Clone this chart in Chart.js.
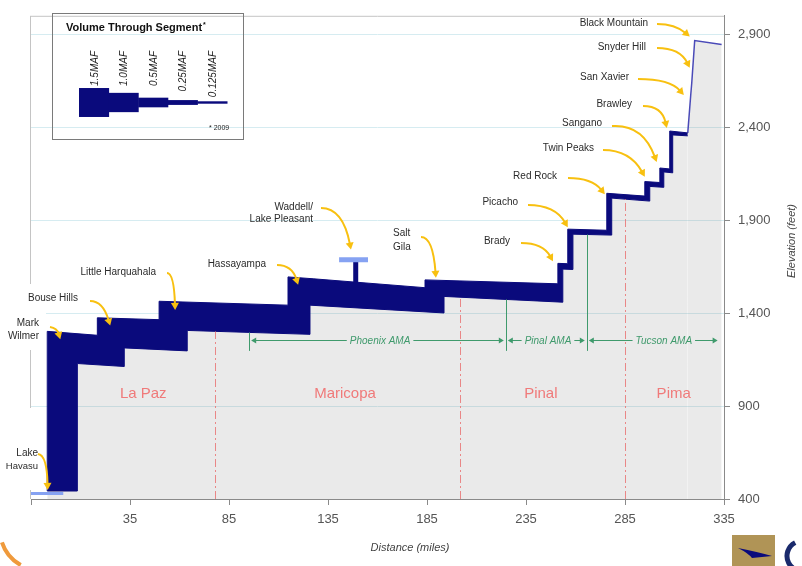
<!DOCTYPE html>
<html>
<head>
<meta charset="utf-8">
<style>
  html, body { margin: 0; padding: 0; background: #ffffff; }
  canvas { display: block; }
</style>
<script src="https://cdn.jsdelivr.net/npm/chart.js@4.4.1/dist/chart.umd.min.js"></script>
</head>
<body>
<canvas id="profile" width="802" height="566"></canvas>
<script>
// CAP aqueduct elevation profile, Lake Havasu to Black Mountain.
// Points are [distance in miles, elevation in feet].

// upper edge of the water band (pumping plants are the vertical steps)
const canalTop = [
  [-6.8, 443], [-6.8, 1302], [18.5, 1281], [18.5, 1375], [49.7, 1365], [49.7, 1464],
  [114.8, 1443], [114.8, 1595], [127.5, 1585], [184.0, 1537], [184.0, 1579],
  [251.1, 1558], [251.1, 1668], [256.1, 1666], [256.1, 1852], [275.8, 1846],
  [275.8, 2045], [295.0, 2030], [295.0, 2108], [302.6, 2103], [302.6, 2181],
  [307.6, 2176], [307.6, 2380], [316.7, 2370]
];
// lower edge of the water band (band depth = volume through segment)
const canalBottom = [
  [-6.8, 443], [8.4, 443], [8.4, 1129], [32.1, 1113], [32.1, 1213], [63.9, 1197],
  [63.9, 1307], [125.9, 1286], [125.9, 1443], [193.6, 1401], [193.6, 1490],
  [253.6, 1459], [253.6, 1637], [258.7, 1635], [258.7, 1825], [278.3, 1820],
  [278.3, 2019], [297.5, 2003], [297.5, 2082], [304.6, 2077], [304.6, 2160],
  [309.1, 2155], [309.1, 2359], [316.7, 2354]
];
// small-flow reach from Brawley up to Black Mountain
const upperReach = [[316.7, 2370], [318.2, 2574], [318.7, 2637], [320.2, 2867], [333.8, 2846]];
// Waddell pumping line and Lake Pleasant
const waddellLine = [[149.0, 1560], [149.0, 1687]];
const lakePleasant = [[140.6, 1687], [155.2, 1687]];
// Lake Havasu intake level
const lakeHavasu = [[-15, 430], [1.3, 430]];

// pumping plants and where each callout points
const stations = ['Lake Havasu', 'Mark Wilmer', 'Bouse Hills', 'Little Harquahala', 'Hassayampa',
  'Waddell/Lake Pleasant', 'Salt Gila', 'Brady', 'Picacho', 'Red Rock', 'Twin Peaks',
  'Sangano', 'Brawley', 'San Xavier', 'Snyder Hill', 'Black Mountain'];
const stationMiles = [-6.6, -0.2, 25.0, 57.8, 119.9, 146.6, 189.5, 248.6, 256.1, 274.8, 295.0,
  301.0, 306.1, 314.7, 317.7, 317.7];
const stationElev = [449, 1260, 1333, 1417, 1553, 1742, 1590, 1679, 1862, 2040, 2134,
  2213, 2396, 2574, 2720, 2888];

// counties and their boundaries (miles)
const counties = ['La Paz', 'Maricopa', 'Pinal', 'Pima'];
const countyBounds = [78.0, 201.6, 285.0];

// active management areas
const amaNames = ['Phoenix AMA', 'Pinal AMA', 'Tucson AMA'];
const amaBounds = [95.2, 224.8, 265.7, 332.8];

// legend key: annual volume through a segment
const legendLabels = ['1.5MAF', '1.0MAF', '0.5MAF', '0.25MAF', '0.125MAF'];
const legendVolumes = [1.5, 1.0, 0.5, 0.25, 0.125];

// axis ticks
const distanceTicks = [-15, 35, 85, 135, 185, 235, 285, 335];
const elevationTicks = [400, 900, 1400, 1900, 2400, 2900];

const toXY = pts => pts.map(([x, y]) => ({ x, y }));

const NAVY = '#0a0a7c';
const PALE_BLUE = '#86a2f2';
const GROUND = 'rgba(140,140,140,0.18)';
const FONT = '"Liberation Sans", Arial, Helvetica, sans-serif';

function edgeAt(pts, m) {
  for (let i = 0; i < pts.length - 1; i++) {
    const [x0, y0] = pts[i], [x1, y1] = pts[i + 1];
    if (x1 > x0 && m >= x0 && m <= x1) return y0 + (y1 - y0) * (m - x0) / (x1 - x0);
  }
  return null;
}

function arrowHead(ctx, tip, ang, len, half) {
  const bx = tip[0] - len * Math.cos(ang), by = tip[1] - len * Math.sin(ang);
  ctx.beginPath();
  ctx.moveTo(tip[0], tip[1]);
  ctx.lineTo(bx + half * Math.sin(ang), by - half * Math.cos(ang));
  ctx.lineTo(bx - half * Math.sin(ang), by + half * Math.cos(ang));
  ctx.closePath();
  ctx.fill();
  return [bx, by];
}

function calloutArrow(ctx, from, ctrl, tip) {
  ctx.save();
  ctx.strokeStyle = ctx.fillStyle = '#f8c010';
  ctx.lineWidth = 2;
  const ang = Math.atan2(tip[1] - ctrl[1], tip[0] - ctrl[0]);
  const base = arrowHead(ctx, tip, ang, 7, 4);
  ctx.beginPath();
  ctx.moveTo(from[0], from[1]);
  ctx.quadraticCurveTo(ctrl[0], ctrl[1], base[0] + 1.5 * Math.cos(ang), base[1] + 1.5 * Math.sin(ang));
  ctx.stroke();
  ctx.restore();
}

// text placement and arrow tails for each callout (pixels)
const calloutLayout = [
  { lines: ['Lake', 'Havasu'], x: 38, y: [453, 466], size: [10, 9.5], from: [38, 454], ctrl: [47, 455] },
  { lines: ['Mark', 'Wilmer'], x: 39, y: [323, 336], size: [10, 10], from: [50, 327], ctrl: [57, 328] },
  { lines: ['Bouse Hills'], x: 78, y: [298], size: [10], from: [90, 301], ctrl: [103, 301] },
  { lines: ['Little Harquahala'], x: 156, y: [272], size: [10], from: [167, 273], ctrl: [174, 273] },
  { lines: ['Hassayampa'], x: 266, y: [264], size: [10], from: [277, 265], ctrl: [292, 265] },
  { lines: ['Waddell/', 'Lake Pleasant'], x: 313, y: [207, 219], size: [10, 10], from: [321, 208], ctrl: [343, 208] },
  { lines: ['Salt', 'Gila'], x: 393, y: [233, 247], size: [10, 10], align: 'left', from: [421, 237], ctrl: [433, 237] },
  { lines: ['Brady'], x: 510, y: [241], size: [10], from: [521, 243], ctrl: [543, 243] },
  { lines: ['Picacho'], x: 518, y: [202], size: [10], from: [528, 205], ctrl: [555, 205] },
  { lines: ['Red Rock'], x: 557, y: [176], size: [10], from: [568, 178], ctrl: [592, 178] },
  { lines: ['Twin Peaks'], x: 594, y: [148], size: [10], from: [603, 150], ctrl: [630, 150] },
  { lines: ['Sangano'], x: 602, y: [123], size: [10], from: [612, 126], ctrl: [643, 124] },
  { lines: ['Brawley'], x: 632, y: [104], size: [10], from: [643, 106], ctrl: [662, 106] },
  { lines: ['San Xavier'], x: 629, y: [77], size: [10], from: [638, 79], ctrl: [670, 79] },
  { lines: ['Snyder Hill'], x: 646, y: [47], size: [10], from: [657, 48], ctrl: [680, 48] },
  { lines: ['Black Mountain'], x: 648, y: [23], size: [10], from: [657, 24], ctrl: [675, 24] }
];

const decorations = {
  id: 'decorations',
  afterDatasetsDraw(chart) {
    const ctx = chart.ctx;
    const xs = chart.scales.x, ys = chart.scales.y;
    const bottom = chart.chartArea.bottom;

    // county boundaries (dash-dot), from the ground up to the canal
    ctx.save();
    ctx.strokeStyle = 'rgba(232,110,110,0.8)';
    ctx.lineWidth = 1;
    ctx.setLineDash([8, 3, 2, 3]);
    countyBounds.forEach(m => {
      const px = Math.round(xs.getPixelForValue(m)) + 0.5;
      ctx.beginPath();
      ctx.moveTo(px, bottom);
      ctx.lineTo(px, ys.getPixelForValue(edgeAt(canalBottom, m)));
      ctx.stroke();
    });
    ctx.restore();

    // county names
    const countyCenters = [41.7, 143.6, 242.5, 309.6];
    ctx.save();
    ctx.fillStyle = '#f07a7a';
    ctx.font = '15px ' + FONT;
    ctx.textAlign = 'center';
    ctx.textBaseline = 'middle';
    counties.forEach((name, i) => {
      ctx.fillText(name, xs.getPixelForValue(countyCenters[i]), ys.getPixelForValue(967));
    });
    ctx.restore();

    // AMA boundaries and spans
    const green = '#3f9a6c';
    const yLine = Math.round(ys.getPixelForValue(1255)) + 0.5;
    const yFoot = ys.getPixelForValue(1197);
    ctx.save();
    ctx.strokeStyle = ctx.fillStyle = green;
    ctx.lineWidth = 1;
    amaBounds.slice(0, 3).forEach(m => {
      const px = Math.round(xs.getPixelForValue(m)) + 0.5;
      ctx.beginPath();
      ctx.moveTo(px, yFoot);
      ctx.lineTo(px, ys.getPixelForValue(edgeAt(canalBottom, m)));
      ctx.stroke();
    });
    const amaCenters = [161.3, 246.1, 304.6];
    ctx.font = 'italic 10px ' + FONT;
    ctx.textAlign = 'center';
    ctx.textBaseline = 'middle';
    amaNames.forEach((name, i) => {
      const x0 = xs.getPixelForValue(amaBounds[i]) + 2;
      const x1 = xs.getPixelForValue(amaBounds[i + 1]) - 2;
      const cx = xs.getPixelForValue(amaCenters[i]);
      const w = ctx.measureText(name).width;
      ctx.fillText(name, cx, yLine + 1);
      ctx.beginPath();
      ctx.moveTo(x0 + 4, yLine); ctx.lineTo(cx - w / 2 - 3, yLine);
      ctx.moveTo(cx + w / 2 + 3, yLine); ctx.lineTo(x1 - 4, yLine);
      ctx.stroke();
      arrowHead(ctx, [x0, yLine], Math.PI, 5, 3);
      arrowHead(ctx, [x1, yLine], 0, 5, 3);
    });
    ctx.restore();
  },
  afterDraw(chart) {
    const ctx = chart.ctx;
    const { left, right, top, bottom } = chart.chartArea;
    const xs = chart.scales.x, ys = chart.scales.y;

    // plot frame: top and left edges
    ctx.save();
    ctx.strokeStyle = '#c4c4c4';
    ctx.lineWidth = 1;
    ctx.beginPath();
    ctx.moveTo(left, top + 0.5); ctx.lineTo(right, top + 0.5);
    ctx.moveTo(left - 0.5, top); ctx.lineTo(left - 0.5, bottom);
    ctx.stroke();
    // text boxes on the left edge
    ctx.fillStyle = '#ffffff';
    ctx.fillRect(0, 284, 46, 66);
    ctx.fillRect(0, 408, 44, 82);
    ctx.restore();

    // callouts
    ctx.save();
    ctx.fillStyle = '#2b2b2b';
    ctx.textBaseline = 'middle';
    calloutLayout.forEach((c, i) => {
      ctx.textAlign = c.align || 'right';
      c.lines.forEach((t, j) => {
        ctx.font = c.size[j] + 'px ' + FONT;
        ctx.fillText(t, c.x, c.y[j]);
      });
      const tip = [xs.getPixelForValue(stationMiles[i]), ys.getPixelForValue(stationElev[i])];
      calloutArrow(ctx, c.from, c.ctrl, tip);
    });
    ctx.restore();

    // volume legend
    ctx.save();
    ctx.strokeStyle = '#7a7a7a';
    ctx.lineWidth = 1;
    ctx.strokeRect(52.5, 13.5, 191, 126);
    ctx.fillStyle = '#111';
    ctx.font = 'bold 11px ' + FONT;
    ctx.textAlign = 'left';
    ctx.textBaseline = 'middle';
    ctx.fillText('Volume Through Segment', 66, 28);
    const tw = ctx.measureText('Volume Through Segment').width;
    ctx.font = 'bold 7px ' + FONT;
    ctx.fillText('*', 66 + tw + 1, 25);
    const segW = 29.6, x0 = 79, cy = 102.5;
    ctx.fillStyle = NAVY;
    legendVolumes.forEach((v, i) => {
      const h = Math.max(2, v * 19.3);
      ctx.fillRect(x0 + i * segW, cy - h / 2, segW + 0.5, h);
    });
    ctx.fillStyle = '#222';
    ctx.font = 'italic 10px ' + FONT;
    ctx.textAlign = 'right';
    legendLabels.forEach((t, i) => {
      ctx.save();
      ctx.translate(x0 + i * segW + segW / 2 + 1, 51);
      ctx.rotate(-Math.PI / 2);
      ctx.fillText(t, 0, 0);
      ctx.restore();
    });
    ctx.font = '7px ' + FONT;
    ctx.textAlign = 'left';
    ctx.fillText('* 2009', 209, 128);
    ctx.restore();

    // axis titles
    ctx.save();
    ctx.fillStyle = '#444';
    ctx.font = 'italic 11px ' + FONT;
    ctx.textAlign = 'center';
    ctx.textBaseline = 'middle';
    ctx.fillText('Distance (miles)', 410, 548);
    ctx.translate(792, 241);
    ctx.rotate(-Math.PI / 2);
    ctx.fillText('Elevation (feet)', 0, 0);
    ctx.restore();

    // page marks in the corners
    ctx.save();
    ctx.fillStyle = '#b09456';
    ctx.fillRect(732, 535, 43, 31);
    ctx.fillStyle = NAVY;
    ctx.beginPath();
    ctx.moveTo(738, 548); ctx.quadraticCurveTo(758, 552, 772, 556);
    ctx.lineTo(752, 558); ctx.quadraticCurveTo(748, 553, 738, 548);
    ctx.fill();
    ctx.strokeStyle = '#1a2a6c';
    ctx.lineWidth = 5;
    ctx.beginPath();
    ctx.arc(802, 556, 15, Math.PI * 0.6, Math.PI * 1.35);
    ctx.stroke();
    ctx.strokeStyle = '#ef9a3c';
    ctx.lineWidth = 4;
    ctx.beginPath();
    ctx.arc(40, 530, 40, Math.PI * 0.66, Math.PI * 0.9);
    ctx.stroke();
    ctx.restore();
  }
};

new Chart(document.getElementById('profile'), {
  type: 'scatter',
  data: {
    datasets: [
      { label: 'Lake Pleasant', data: toXY(lakePleasant), showLine: true, borderColor: PALE_BLUE, borderWidth: 5, pointRadius: 0, fill: false },
      { label: 'Lake Havasu', data: toXY(lakeHavasu), showLine: true, borderColor: PALE_BLUE, borderWidth: 3, pointRadius: 0, fill: false },
      { label: 'Waddell', data: toXY(waddellLine), showLine: true, borderColor: NAVY, borderWidth: 5, pointRadius: 0, fill: false },
      { label: 'Canal top', data: toXY(canalTop), showLine: true, borderColor: NAVY, borderWidth: 1, borderJoinStyle: 'miter',
        pointRadius: 0, backgroundColor: NAVY, fill: '+1' },
      { label: 'Canal bottom', data: toXY(canalBottom), showLine: true, borderColor: NAVY, borderWidth: 1, borderJoinStyle: 'miter',
        pointRadius: 0, backgroundColor: GROUND, fill: 'start' },
      { label: 'Upper reach', data: toXY(upperReach), showLine: true, borderColor: '#4a4ab8', borderWidth: 1.5,
        pointRadius: 0, backgroundColor: GROUND, fill: 'start' }
    ]
  },
  options: {
    responsive: false,
    animation: false,
    events: [],
    layout: { padding: { left: 31, top: 3, right: 0, bottom: 0 } },
    plugins: { legend: { display: false }, tooltip: { enabled: false } },
    scales: {
      x: {
        type: 'linear', position: 'bottom', min: -15, max: 335,
        afterBuildTicks: s => { s.ticks = distanceTicks.map(v => ({ value: v })); },
        afterFit: s => { s.height = 67; },
        ticks: { autoSkip: false, maxRotation: 0, padding: 7, color: '#555', font: { family: FONT, size: 13 },
          callback: v => (v === -15 ? '' : String(v)) },
        grid: { drawOnChartArea: false, drawTicks: true, tickLength: 6, tickColor: '#8a8a8a' },
        border: { display: true, color: '#8a8a8a', width: 1 }
      },
      y: {
        type: 'linear', position: 'right', min: 400, max: 3000,
        afterBuildTicks: s => { s.ticks = elevationTicks.map(v => ({ value: v })); },
        afterFit: s => { s.width = 78; },
        ticks: { padding: 8, color: '#555', font: { family: FONT, size: 13 },
          callback: v => v.toLocaleString('en-US') },
        grid: { color: '#d6ecf1', lineWidth: 1, drawTicks: true, tickLength: 6, tickColor: '#8a8a8a' },
        border: { display: true, color: '#8a8a8a', width: 1 }
      }
    }
  },
  plugins: [decorations]
});
</script>
</body>
</html>
